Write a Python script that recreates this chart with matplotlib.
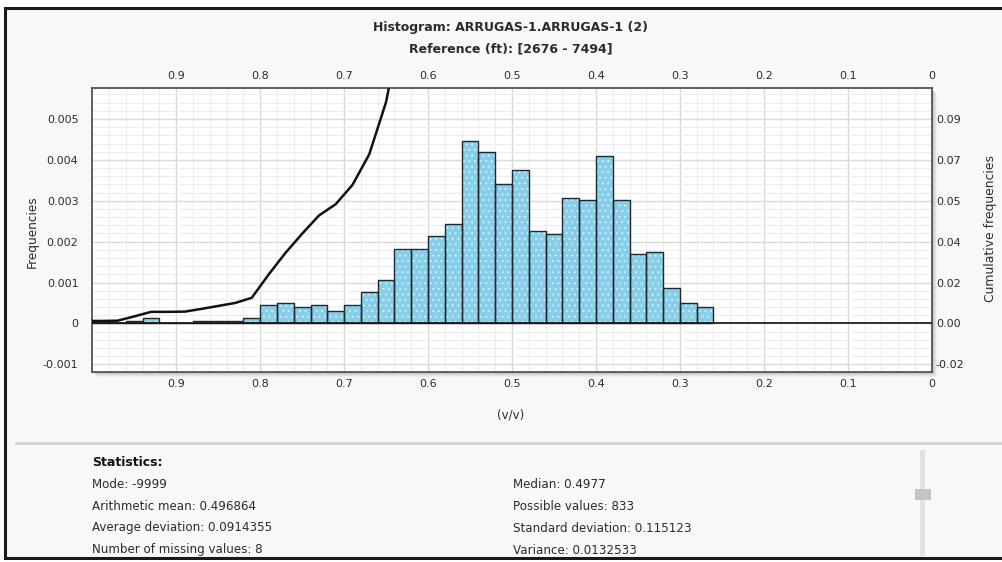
import matplotlib
matplotlib.use("Agg")
import matplotlib.pyplot as plt
from matplotlib.patches import Rectangle
from matplotlib.lines import Line2D
from matplotlib.ticker import FixedLocator, MultipleLocator, FuncFormatter

W, H = 1003, 562

# histogram bins (v/v), 0.02 wide, from 1.0 down to 0.26
bin_centers = [0.99, 0.97, 0.95, 0.93, 0.91, 0.89, 0.87, 0.85, 0.83, 0.81,
               0.79, 0.77, 0.75, 0.73, 0.71, 0.69, 0.67, 0.65, 0.63, 0.61,
               0.59, 0.57, 0.55, 0.53, 0.51, 0.49, 0.47, 0.45, 0.43, 0.41,
               0.39, 0.37, 0.35, 0.33, 0.31, 0.29, 0.27]
frequencies = [0.00005, 0.0, 0.00005, 0.00013, 0.0, 0.0, 0.00005, 0.00005, 0.00005, 0.00013,
               0.00045, 0.00051, 0.00039, 0.00045, 0.00031, 0.00045, 0.00077, 0.00106, 0.00181, 0.00181,
               0.00213, 0.00244, 0.00446, 0.00420, 0.00340, 0.00376, 0.00226, 0.00218, 0.00307, 0.00301,
               0.00409, 0.00301, 0.00171, 0.00175, 0.00087, 0.00050, 0.00039]

# cumulative curve (right axis), runs off the top after 0.65
cum_x = [1.0, 0.99, 0.97, 0.95, 0.93, 0.91, 0.89, 0.87, 0.85, 0.83,
         0.81, 0.79, 0.77, 0.75, 0.73, 0.71, 0.69, 0.67, 0.65, 0.63]
cumulative = [0.0011, 0.0011, 0.0012, 0.0031, 0.0051, 0.0051, 0.0052, 0.0064, 0.0077, 0.0090,
              0.0113, 0.0215, 0.0310, 0.0395, 0.0475, 0.0525, 0.0610, 0.0745, 0.0975, 0.1350]

value_ticks = [0.9, 0.8, 0.7, 0.6, 0.5, 0.4, 0.3, 0.2, 0.1, 0.0]
freq_ticks = [-0.001, 0.0, 0.001, 0.002, 0.003, 0.004, 0.005]
cum_ticks = [-0.018, 0.0, 0.018, 0.036, 0.054, 0.072, 0.09]

title_lines = ["Histogram: ARRUGAS-1.ARRUGAS-1 (2)", "Reference (ft): [2676 - 7494]"]
stats_left = ["Mode: -9999", "Arithmetic mean: 0.496864",
              "Average deviation: 0.0914355", "Number of missing values: 8"]
stats_right = ["Median: 0.4977", "Possible values: 833",
               "Standard deviation: 0.115123", "Variance: 0.0132533"]

TXT = "#2b2b2b"
plt.rcParams["font.family"] = ["DejaVu Sans"]
plt.rcParams["hatch.linewidth"] = 0.7


def fx(x):
    return x / W


def fy(y):
    return 1 - y / H


fig = plt.figure(figsize=(W / 100, H / 100), dpi=100, facecolor="white")

# window panel
fig.patches.append(Rectangle((fx(5), fy(557)), fx(1003) - fx(5), fy(8) - fy(557),
                             transform=fig.transFigure, facecolor="#f8f8f8",
                             edgecolor="none", zorder=-3))
for xs, ys in [((5, 1003), (8, 8)), ((5, 5), (8, 558)), ((5, 1003), (558, 558))]:
    fig.add_artist(Line2D([fx(xs[0]), fx(xs[1])], [fy(ys[0]), fy(ys[1])],
                          transform=fig.transFigure, color="#1a1a1a", lw=2.2, zorder=5))
# strip under the bottom edge hides the clipped last text row
fig.patches.append(Rectangle((0, 0), 1, fy(559), transform=fig.transFigure,
                             facecolor="white", edgecolor="none", zorder=4))

# plot area with a soft drop shadow
px_l, px_r, px_t, px_b = 92.3, 931.7, 88.3, 371.7
for off, a in [(5, 0.18), (4, 0.25), (3, 0.35), (2, 0.45)]:
    fig.patches.append(Rectangle((fx(px_l + off), fy(px_b + off)), fx(px_r - px_l), fy(px_t) - fy(px_b),
                                 transform=fig.transFigure, facecolor="#9a9a9a",
                                 alpha=a * 0.5, edgecolor="none", zorder=-2))

ax = fig.add_axes([fx(px_l), fy(px_b), fx(px_r - px_l), fy(px_t) - fy(px_b)])
ax.set_facecolor("white")
ax.set_xlim(1.0, 0.0)
ax.set_ylim(-0.00118, 0.00575)

ax.xaxis.set_major_locator(FixedLocator(value_ticks))
ax.xaxis.set_minor_locator(MultipleLocator(0.02))
ax.yaxis.set_major_locator(FixedLocator(freq_ticks))
ax.yaxis.set_minor_locator(MultipleLocator(0.0002))
ax.xaxis.set_major_formatter(FuncFormatter(lambda v, p: f"{v:g}"))
ax.yaxis.set_major_formatter(FuncFormatter(lambda v, p: f"{v:g}" if abs(v) > 1e-9 else "0"))

ax.grid(which="major", color="#dadada", lw=1.0)
ax.grid(which="minor", color="#ededed", lw=0.8)
ax.set_axisbelow(True)

ax.tick_params(axis="both", which="both", length=0)
ax.tick_params(axis="x", labelsize=8, labelcolor=TXT, pad=5, labeltop=True)
ax.tick_params(axis="y", labelsize=8, labelcolor=TXT, pad=10)

# dotted fill first, then the dark outlines on top
ax.bar(bin_centers, frequencies, width=0.02, color="#87ceeb", edgecolor="#d4eef9",
       linewidth=0, hatch="...", zorder=2)
ax.bar(bin_centers, frequencies, width=0.02, fill=False, edgecolor="#262626",
       linewidth=1.0, zorder=2.1)
ax.axhline(0, color="#111111", lw=1.2, zorder=3)

for s in ax.spines.values():
    s.set_color("#555555")
    s.set_linewidth(1.3)

ax2 = ax.twinx()
ax2.set_ylim(-0.00118 * 18, 0.00575 * 18)
ax2.yaxis.set_major_locator(FixedLocator(cum_ticks))
ax2.yaxis.set_major_formatter(FuncFormatter(lambda v, p: f"{v:.2f}"))
ax2.tick_params(axis="y", length=0, labelsize=8, labelcolor=TXT, pad=3)
for s in ax2.spines.values():
    s.set_visible(False)
ax2.plot(cum_x, cumulative, color="#111111", lw=1.8, zorder=4)

# titles and axis labels
fig.text(fx(511), fy(28), title_lines[0], ha="center", va="center",
         fontsize=9, fontweight="bold", color=TXT)
fig.text(fx(511), fy(49), title_lines[1], ha="center", va="center",
         fontsize=9, fontweight="bold", color=TXT)
fig.text(fx(511), fy(415), "(v/v)", ha="center", va="center", fontsize=8.5, color=TXT)
fig.text(fx(32), fy(232), "Frequencies", ha="center", va="center",
         rotation=90, fontsize=8.7, color=TXT)
fig.text(fx(991), fy(228), "Cumulative frequencies", ha="center", va="center",
         rotation=90, fontsize=8.9, color=TXT)

# statistics panel
fig.add_artist(Line2D([fx(16), fx(1003)], [fy(443), fy(443)], transform=fig.transFigure,
                      color="#d2d2d2", lw=2))
fig.text(fx(92), fy(463), "Statistics:", ha="left", va="center",
         fontsize=9, fontweight="bold", color="#111111")
rows = [484, 506, 528, 550]
for y, a, b in zip(rows, stats_left, stats_right):
    fig.text(fx(92), fy(y), a, ha="left", va="center", fontsize=8.6, color=TXT)
    fig.text(fx(513), fy(y), b, ha="left", va="center", fontsize=8.6, color=TXT)

# scroll slider
fig.add_artist(Line2D([fx(922), fx(922)], [fy(452), fy(553)], transform=fig.transFigure,
                      color="#e2e2e2", lw=3.5))
fig.patches.append(Rectangle((fx(915), fy(500)), fx(16), fy(489) - fy(500),
                             transform=fig.transFigure, facecolor="#c4c4c4",
                             edgecolor="none", zorder=3))

fig.savefig("out.png", dpi=100, facecolor=fig.get_facecolor())
